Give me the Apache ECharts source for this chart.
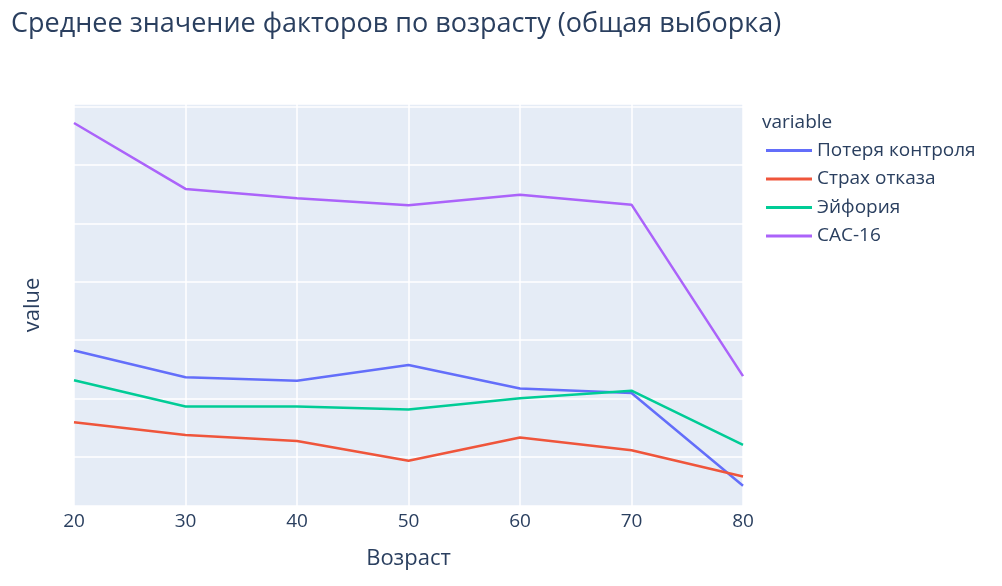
<!DOCTYPE html>
<html>
<head>
<meta charset="utf-8">
<script src="https://cdn.jsdelivr.net/npm/echarts@6/dist/echarts.min.js"></script>
<style>
html, body { margin: 0; padding: 0; background: #fff; }
#chart { width: 1002px; height: 586px; }
</style>
</head>
<body>
<div id="chart"></div>
<script>
// возраст
var ages = [20, 30, 40, 50, 60, 70, 80];
var names = ['Потеря контроля', 'Страх отказа', 'Эйфория', 'CAC-16'];
// значения (шкала без подписей)
var lossControl = [2.82, 2.36, 2.30, 2.57, 2.17, 2.09, 0.50];
var fearRefusal = [1.59, 1.37, 1.27, 0.93, 1.33, 1.11, 0.66];
var euphoria = [2.31, 1.86, 1.86, 1.81, 2.00, 2.13, 1.20];
var cac16 = [6.72, 5.59, 5.43, 5.31, 5.49, 5.32, 2.38];
var colors = ['#636efa', '#EF553B', '#00cc96', '#ab63fa'];

var fontFam = '"Open Sans", "Noto Sans", sans-serif';
var textColor = '#2a3f5f';

function pairs(vals) {
    var out = [];
    for (var i = 0; i < ages.length; i++) {
        out.push([ages[i], vals[i]]);
    }
    return out;
}

var allVals = [lossControl, fearRefusal, euphoria, cac16];
var series = [];
for (var i = 0; i < names.length; i++) {
    series.push({
        name: names[i],
        type: 'line',
        symbol: 'none',
        lineStyle: { width: 2.5, color: colors[i] },
        itemStyle: { color: colors[i] },
        data: pairs(allVals[i])
    });
}

var option = {
    animation: false,
    backgroundColor: '#fff',
    textStyle: { fontFamily: fontFam },
    title: [{
        text: 'Среднее значение факторов по возрасту (общая выборка)',
        left: 6,
        top: 6,
        textStyle: { fontFamily: fontFam, fontSize: 27, fontWeight: 'normal', color: textColor }
    }, {
        text: 'variable',
        left: 757,
        top: 108,
        textStyle: { fontFamily: fontFam, fontSize: 19, fontWeight: 'normal', color: textColor }
    }],
    legend: {
        orient: 'vertical',
        left: 761,
        top: 136,
        icon: 'rect',
        itemWidth: 46,
        itemHeight: 3,
        itemGap: 9.5,
        textStyle: { fontFamily: fontFam, fontSize: 19, color: textColor },
        data: names
    },
    grid: {
        left: 74,
        right: 259,
        top: 104,
        bottom: 80,
        show: true,
        backgroundColor: '#E5ECF6',
        borderWidth: 0
    },
    xAxis: {
        type: 'value',
        min: 20,
        max: 80,
        interval: 10,
        name: 'Возраст',
        nameLocation: 'middle',
        nameGap: 42,
        nameTextStyle: { fontFamily: fontFam, fontSize: 22, color: textColor },
        axisLine: { show: false },
        axisTick: { show: false },
        axisLabel: { fontFamily: fontFam, fontSize: 19, color: textColor, margin: 6 },
        splitLine: { show: true, lineStyle: { color: '#ffffff', width: 1.5 } }
    },
    yAxis: {
        type: 'value',
        min: 0.154,
        max: 7.046,
        splitNumber: 6,
        name: 'value',
        nameLocation: 'middle',
        nameRotate: 90,
        nameGap: 30,
        nameTextStyle: { fontFamily: fontFam, fontSize: 22, color: textColor },
        axisLine: { show: false },
        axisTick: { show: false },
        axisLabel: { show: false },
        splitLine: { show: true, lineStyle: { color: '#ffffff', width: 1.5 } }
    },
    series: series
};

var myChart = echarts.init(document.getElementById('chart'));
myChart.setOption(option);
</script>
</body>
</html>
